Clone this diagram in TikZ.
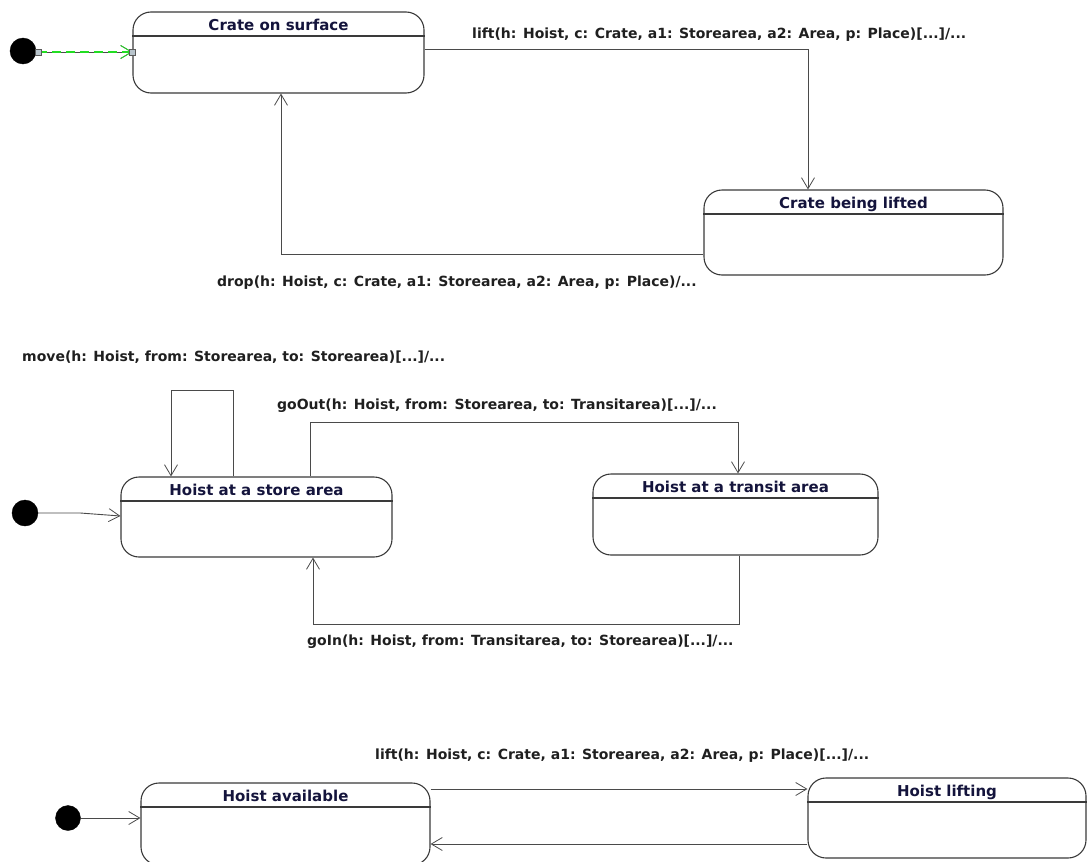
\documentclass[tikz,border=0pt]{standalone}
\usepackage{fontspec}
\setmainfont{DejaVu Sans}
\usetikzlibrary{arrows.meta,calc}
\definecolor{wire}{HTML}{4A4A4A}
\definecolor{frame}{HTML}{3A3A3A}
\definecolor{titleink}{HTML}{14143C}
\definecolor{selgreen}{HTML}{22DD22}
\definecolor{handle}{HTML}{B8C4CC}
\begin{document}
\begin{tikzpicture}[x=1pt,y=1pt,
  statebox/.style={draw=frame,line width=1.1pt,fill=white,rounded corners=18pt,inner sep=0pt},
  statetitle/.style={anchor=north,inner sep=0pt,text=titleink,font=\bfseries\fontsize{15}{17}\selectfont},
  initial/.style={circle,fill=black,draw=black,inner sep=0pt,minimum size=26pt},
  tr/.style={draw=wire,line width=0.9pt,-{Straight Barb[length=11pt,width=13pt,line width=0.8pt]}},
  trlabel/.style={anchor=west,inner sep=0pt,text=black!88,font=\bfseries\fontsize{14}{16}\selectfont},
  grip/.style={draw=gray!70!black,fill=handle,line width=0.5pt,minimum size=6pt,inner sep=0pt}]
\useasboundingbox (0,0) rectangle (1087,-862);

% ---------- states ----------
\newcommand{\statenode}[6]{% name, cx, cy, width, height, title
  \node[statebox,minimum width=#4pt,minimum height=#5pt] (#1) at (#2,#3) {};
  \draw[frame,line width=1.1pt] ($(#1.north west)+(0,-24.5)$) -- ($(#1.north east)+(0,-24.5)$);
  \node[statetitle] (#1-t) at ($(#1.north)+(0,-7)$) {#6};
}
\statenode{cs}{278.5}{-52.5}{291}{81}{Crate on surface}
\statenode{cbl}{853.5}{-232.5}{299}{85}{Crate being lifted}
\statenode{hs}{256.5}{-517}{271}{80}{Hoist at a store area}
\statenode{ht}{735.5}{-514.5}{285}{81}{Hoist at a transit area}
\statenode{ha}{285.5}{-824}{289}{82}{Hoist available}
\statenode{hl}{947}{-818}{278}{80}{Hoist lifting}

% ---------- initial pseudo-states ----------
\node[initial] (i1) at (23,-51) {};
\node[initial] (i2) at (25,-513) {};
\node[initial,minimum size=25pt] (i3) at (68,-818) {};

% ---------- crate diagram ----------
\coordinate (i1e) at ($(i1.east)+(2,-1)$);
\coordinate (cse) at (cs.west |- i1e);
\draw[tr] (i1e) -- (cse);
\draw[selgreen,line width=1.2pt,dash pattern=on 9pt off 5pt,-{Straight Barb[length=11pt,width=13pt,line width=0.8pt]}] (i1e) -- (cse);
\node[grip] (g1) at (i1e) {};
\node[grip] (g2) at (cse) {};

\draw[tr] ([yshift=3.5pt]cs.east) -| ([xshift=-45.5pt]cbl.north);
\node[trlabel] (l1) at (472,-35) {lift(h: Hoist, c: Crate, a1: Storearea, a2: Area, p: Place)[...]/...};

\draw[tr] ([yshift=-21.5pt]cbl.west) -| ([xshift=2.5pt]cs.south);
\node[trlabel] (l2) at (217,-283) {drop(h: Hoist, c: Crate, a1: Storearea, a2: Area, p: Place)/...};

% ---------- hoist position diagram ----------
\coordinate (i2e) at ($(i2.east)+(0,0)$);
\draw[tr] (i2e) -- ++(42,0) -- (hs.west |- 0,-516);

\draw[tr] ([xshift=-23.5pt]hs.north) -- ++(0,86) -| ([xshift=-85.5pt]hs.north);
\node[trlabel] (l3) at (22,-357) {move(h: Hoist, from: Storearea, to: Storearea)[...]/...};

\draw[tr] ([xshift=53.5pt]hs.north) -- ++(0,54) -| ([xshift=2.5pt]ht.north);
\node[trlabel] (l4) at (277,-406) {goOut(h: Hoist, from: Storearea, to: Transitarea)[...]/...};

\draw[tr] ([xshift=3.5pt]ht.south) -- ++(0,-69) -| ([xshift=56.5pt]hs.south);
\node[trlabel] (l5) at (307,-642) {goIn(h: Hoist, from: Transitarea, to: Storearea)[...]/...};

% ---------- hoist activity diagram ----------
\draw[tr] (i3.east) -- (ha.west |- i3.east);

\coordinate (a1) at ([yshift=35pt]ha.east);
\draw[tr] (a1) -- (a1 -| hl.west);
\node[trlabel] (l6) at (375,-756) {lift(h: Hoist, c: Crate, a1: Storearea, a2: Area, p: Place)[...]/...};

\coordinate (b1) at ([yshift=-26pt]hl.west);
\draw[tr] (b1) -- (b1 -| ha.east);
\end{tikzpicture}
\end{document}
